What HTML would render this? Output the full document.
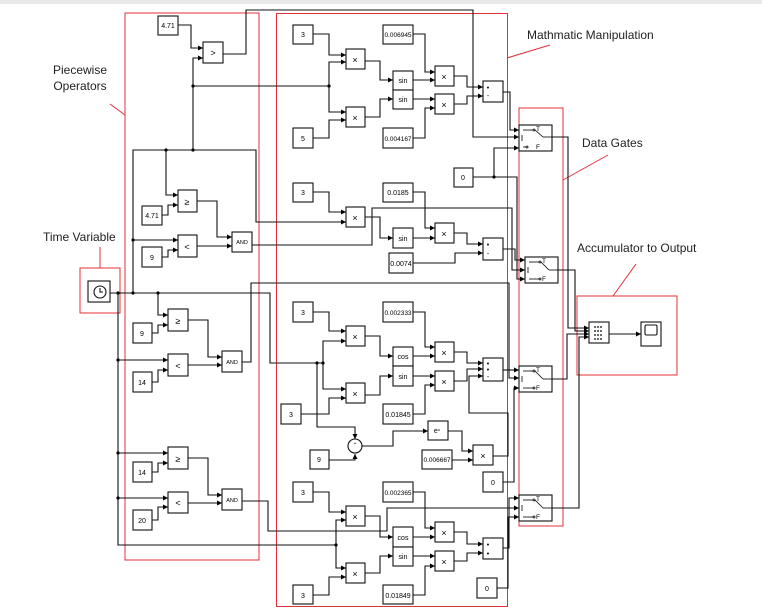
<!DOCTYPE html>
<html><head><meta charset="utf-8"><style>
html,body{margin:0;padding:0;background:#fff;}
svg{display:block;font-family:"Liberation Sans",sans-serif;}
</style></head><body>
<svg width="762" height="613" viewBox="0 0 762 613" xmlns="http://www.w3.org/2000/svg">
<defs><marker id="a" markerWidth="6" markerHeight="6" refX="5" refY="3" orient="auto" markerUnits="userSpaceOnUse"><path d="M0,0.5 L5,3 L0,5.5z" fill="#000"/></marker></defs>
<rect width="762" height="613" fill="#fff"/>
<rect x="0" y="0" width="762" height="4" fill="#e8e8e8"/>
<g fill="none" stroke="#e0303a" stroke-width="1">
<rect x="125" y="13" width="134" height="547"/>
<rect x="276.5" y="13.5" width="231" height="593"/>
<rect x="519" y="108" width="44" height="418"/>
<rect x="577" y="296" width="100" height="79"/>
<rect x="80" y="268" width="40" height="45"/>
<line x1="110" y1="104" x2="125" y2="115"/>
<line x1="550" y1="45" x2="507" y2="58"/>
<line x1="608" y1="155" x2="563" y2="180"/>
<line x1="636" y1="264" x2="613" y2="296"/>
<line x1="100" y1="247" x2="100" y2="268"/>
</g>
<g font-size="12" fill="#222">
<text x="80" y="74" text-anchor="middle">Piecewise</text>
<text x="80" y="90" text-anchor="middle">Operators</text>
<text x="527" y="39">Mathmatic Manipulation</text>
<text x="582" y="147">Data Gates</text>
<text x="577" y="252">Accumulator to Output</text>
<text x="43" y="241">Time Variable</text>
</g>
<g fill="none" stroke="#111" stroke-width="1.1">
<polyline points="193,150 193,86"/>
</g>
<g fill="none" stroke="#111" stroke-width="1.1" marker-end="url(#a)">
<polyline points="178,25 191,25 191,48 203,48"/>
<polyline points="193,86 193,58 203,58"/>
<polyline points="223,54 246,54 246,10 473,10 473,137 519,137"/>
<polyline points="193,86 329,86 329,62 346,62"/>
<polyline points="329,86 329,112 346,112"/>
<polyline points="313,34 329,34 329,55 346,55"/>
<polyline points="313,138 329,138 329,120 346,120"/>
<polyline points="365,61 380,61 380,80 393,80"/>
<polyline points="365,117 380,117 380,99 393,99"/>
<polyline points="413,80 435,80"/>
<polyline points="413,34 425,34 425,72 435,72"/>
<polyline points="413,99 435,99"/>
<polyline points="413,138 425,138 425,108 435,108"/>
<polyline points="454,76 467,76 467,87 483,87"/>
<polyline points="454,104 467,104 467,96 483,96"/>
<polyline points="503,92 510,92 510,130 519,130"/>
<polyline points="473,177 494,177 494,148 519,148"/>
<polyline points="494,177 517,177 517,279 525,279"/>
<polyline points="133,293 133,150 256,150 256,222 346,222"/>
<polyline points="166,150 166,195 178,195"/>
<polyline points="162,215 168,215 168,205 178,205"/>
<polyline points="133,240 178,240"/>
<polyline points="152,257 168,257 168,250 178,250"/>
<polyline points="197,201 217,201 217,237 232,237"/>
<polyline points="197,246 232,246"/>
<polyline points="252,245 372,245 372,208 512,208 512,270 525,270"/>
<polyline points="313,192 329,192 329,212 346,212"/>
<polyline points="365,217 380,217 380,238 393,238"/>
<polyline points="413,238 435,238"/>
<polyline points="413,192 425,192 425,228 435,228"/>
<polyline points="454,233 467,233 467,244 483,244"/>
<polyline points="413,263 455,263 455,253 483,253"/>
<polyline points="503,249 515,249 515,260 525,260"/>
<polyline points="110,293 270,293 270,363 323,363 323,341 346,341"/>
<polyline points="323,363 323,389 346,389"/>
<polyline points="317,363 317,427 355,427 355,439"/>
<polyline points="313,312 329,312 329,331 346,331"/>
<polyline points="301,414 329,414 329,398 346,398"/>
<polyline points="365,336 380,336 380,356 393,356"/>
<polyline points="365,395 380,395 380,376 393,376"/>
<polyline points="413,356 435,356"/>
<polyline points="413,312 425,312 425,347 435,347"/>
<polyline points="413,376 435,376"/>
<polyline points="413,414 425,414 425,385 435,385"/>
<polyline points="454,352 467,352 467,363 483,363"/>
<polyline points="454,381 467,381 467,369 483,369"/>
<polyline points="493,456 508,456 508,413 469,413 469,376 483,376"/>
<polyline points="329,460 355,460 355,454"/>
<polyline points="362,446 393,446 393,431 428,431"/>
<polyline points="448,431 462,431 462,451 473,451"/>
<polyline points="452,460 473,460"/>
<polyline points="503,370 519,370"/>
<polyline points="503,482 514,482 514,388 519,388"/>
<polyline points="158,293 158,315 168,315"/>
<polyline points="152,333 158,333 158,325 168,325"/>
<polyline points="118,293 118,545 336,545 336,520 346,520"/>
<polyline points="336,545 336,568 346,568"/>
<polyline points="118,360 168,360"/>
<polyline points="152,382 158,382 158,370 168,370"/>
<polyline points="188,320 208,320 208,357 222,357"/>
<polyline points="188,365 222,365"/>
<polyline points="242,362 251,362 251,283 509,283 509,378 519,378"/>
<polyline points="118,453 168,453"/>
<polyline points="152,472 158,472 158,463 168,463"/>
<polyline points="118,498 168,498"/>
<polyline points="152,520 158,520 158,507 168,507"/>
<polyline points="188,458 208,458 208,495 222,495"/>
<polyline points="188,503 222,503"/>
<polyline points="242,501 268,501 268,531 387,531 387,508 519,508"/>
<polyline points="313,492 329,492 329,512 346,512"/>
<polyline points="313,595 329,595 329,577 346,577"/>
<polyline points="365,516 380,516 380,537 393,537"/>
<polyline points="365,573 380,573 380,556 393,556"/>
<polyline points="413,537 435,537"/>
<polyline points="413,492 425,492 425,528 435,528"/>
<polyline points="413,556 435,556"/>
<polyline points="413,595 425,595 425,566 435,566"/>
<polyline points="454,532 467,532 467,544 483,544"/>
<polyline points="454,561 467,561 467,553 483,553"/>
<polyline points="503,548 509,548 509,498 519,498"/>
<polyline points="497,588 508,588 508,517 519,517"/>
<polyline points="552,137 568,137 568,328 589,328"/>
<polyline points="558,270 575,270 575,331 589,331"/>
<polyline points="552,379 567,379 567,334 589,334"/>
<polyline points="552,508 579,508 579,337 589,337"/>
<polyline points="609,334 641,334"/>
</g>
<g fill="#000">
<circle cx="193" cy="86" r="1.6"/><circle cx="193" cy="150" r="1.6"/><circle cx="166" cy="150" r="1.6"/>
<circle cx="329" cy="86" r="1.6"/><circle cx="133" cy="240" r="1.6"/><circle cx="133" cy="293" r="1.6"/>
<circle cx="118" cy="293" r="1.6"/><circle cx="158" cy="293" r="1.6"/><circle cx="494" cy="177" r="1.6"/>
<circle cx="317" cy="363" r="1.6"/><circle cx="323" cy="363" r="1.6"/><circle cx="336" cy="545" r="1.6"/>
<circle cx="118" cy="360" r="1.6"/><circle cx="118" cy="453" r="1.6"/><circle cx="118" cy="498" r="1.6"/>
</g>
<g fill="#fff" stroke="#111" stroke-width="1.1">
<rect x="158" y="16" width="20" height="19"/><rect x="203" y="42" width="20" height="21"/>
<rect x="178" y="190" width="19" height="22"/><rect x="142" y="206" width="20" height="19"/>
<rect x="178" y="235" width="19" height="22"/><rect x="142" y="247" width="20" height="20"/>
<rect x="232" y="232" width="20" height="20"/>
<rect x="168" y="309" width="20" height="22"/><rect x="133" y="323" width="19" height="20"/>
<rect x="168" y="354" width="20" height="22"/><rect x="133" y="372" width="19" height="20"/>
<rect x="222" y="351" width="20" height="21"/>
<rect x="168" y="447" width="20" height="22"/><rect x="133" y="462" width="19" height="20"/>
<rect x="168" y="492" width="20" height="21"/><rect x="133" y="510" width="19" height="20"/>
<rect x="222" y="489" width="20" height="21"/>
<rect x="293" y="25" width="20" height="19"/><rect x="293" y="128" width="20" height="20"/>
<rect x="346" y="49" width="19" height="20"/><rect x="346" y="107" width="19" height="20"/>
<rect x="393" y="71" width="20" height="19"/><rect x="393" y="90" width="20" height="19"/>
<rect x="383" y="25" width="30" height="19"/><rect x="383" y="128" width="30" height="20"/>
<rect x="435" y="66" width="19" height="20"/><rect x="435" y="94" width="19" height="20"/>
<rect x="483" y="81" width="20" height="21"/><rect x="454" y="168" width="19" height="19"/>
<rect x="293" y="183" width="20" height="19"/><rect x="346" y="207" width="19" height="20"/>
<rect x="383" y="183" width="30" height="19"/><rect x="393" y="228" width="20" height="20"/>
<rect x="435" y="223" width="19" height="20"/><rect x="483" y="238" width="20" height="22"/>
<rect x="389" y="253" width="24" height="20"/>
<rect x="293" y="302" width="20" height="20"/><rect x="346" y="326" width="19" height="20"/>
<rect x="383" y="302" width="30" height="20"/><rect x="393" y="347" width="20" height="19"/>
<rect x="393" y="366" width="20" height="20"/><rect x="435" y="342" width="19" height="20"/>
<rect x="435" y="371" width="19" height="20"/><rect x="483" y="358" width="20" height="23"/>
<rect x="346" y="383" width="19" height="20"/><rect x="281" y="404" width="20" height="20"/>
<rect x="383" y="404" width="30" height="20"/><rect x="310" y="450" width="19" height="19"/>
<rect x="428" y="421" width="20" height="19"/><rect x="422" y="450" width="30" height="19"/>
<rect x="473" y="445" width="20" height="20"/><rect x="483" y="472" width="20" height="20"/>
<rect x="293" y="482" width="20" height="20"/><rect x="346" y="506" width="19" height="20"/>
<rect x="383" y="482" width="30" height="20"/><rect x="393" y="527" width="20" height="20"/>
<rect x="393" y="547" width="20" height="19"/><rect x="435" y="522" width="19" height="20"/>
<rect x="435" y="551" width="19" height="20"/><rect x="483" y="538" width="20" height="21"/>
<rect x="346" y="563" width="19" height="20"/><rect x="293" y="585" width="20" height="19"/>
<rect x="383" y="585" width="30" height="19"/><rect x="477" y="578" width="20" height="20"/>
<rect x="519" y="125" width="33" height="26"/><rect x="525" y="257" width="33" height="26"/>
<rect x="519" y="366" width="33" height="26"/><rect x="519" y="495" width="33" height="26"/>
<rect x="589" y="322" width="20" height="21"/><rect x="641" y="322" width="20" height="24"/>
<rect x="645" y="325" width="12" height="10" rx="1.5"/>
<rect x="88" y="281" width="22" height="21"/>
<circle cx="100" cy="292" r="6"/>
<circle cx="355" cy="446" r="7"/>
</g>
<path d="M100,288 L100,292 L103,292" fill="none" stroke="#000"/>
<g fill="none" stroke="#000" stroke-width="0.8">
<g transform="translate(519,125)"><circle cx="15" cy="5" r="1"/><circle cx="8" cy="22" r="1"/><line x1="4" y1="5" x2="14" y2="5"/><line x1="4" y1="22" x2="7" y2="22"/><line x1="16" y1="5" x2="24" y2="12"/><line x1="24" y1="12" x2="33" y2="12"/><line x1="3" y1="10" x2="3" y2="16"/></g>
<g transform="translate(525,257)"><circle cx="15" cy="5" r="1"/><circle cx="15" cy="22" r="1"/><line x1="4" y1="5" x2="14" y2="5"/><line x1="4" y1="22" x2="14" y2="22"/><line x1="16" y1="5" x2="24" y2="13"/><line x1="24" y1="13" x2="33" y2="13"/><line x1="3" y1="10" x2="3" y2="16"/></g>
<g transform="translate(519,366)"><circle cx="15" cy="5" r="1"/><circle cx="15" cy="22" r="1"/><line x1="4" y1="5" x2="14" y2="5"/><line x1="4" y1="22" x2="14" y2="22"/><line x1="16" y1="5" x2="24" y2="13"/><line x1="24" y1="13" x2="33" y2="13"/><line x1="3" y1="10" x2="3" y2="16"/></g>
<g transform="translate(519,495)"><circle cx="15" cy="5" r="1"/><circle cx="15" cy="22" r="1"/><line x1="4" y1="5" x2="14" y2="5"/><line x1="4" y1="22" x2="14" y2="22"/><line x1="16" y1="5" x2="24" y2="13"/><line x1="24" y1="13" x2="33" y2="13"/><line x1="3" y1="10" x2="3" y2="16"/></g>
</g>
<g font-size="6.5" fill="#000">
<text x="536" y="131">T</text><text x="536" y="149">F</text>
<text x="542" y="263">T</text><text x="542" y="281">F</text>
<text x="536" y="372">T</text><text x="536" y="390">F</text>
<text x="536" y="501">T</text><text x="536" y="519">F</text>
</g>
<g fill="#000"><circle cx="595" cy="327" r="0.9"/><circle cx="595" cy="331" r="0.9"/><circle cx="595" cy="335" r="0.9"/><circle cx="595" cy="339" r="0.9"/>
<circle cx="598" cy="327" r="0.9"/><circle cx="601" cy="327" r="0.9"/><circle cx="598" cy="331" r="0.9"/><circle cx="601" cy="331" r="0.9"/><circle cx="598" cy="335" r="0.9"/><circle cx="601" cy="335" r="0.9"/><circle cx="598" cy="339" r="0.9"/><circle cx="601" cy="339" r="0.9"/></g>
<g font-size="7" fill="#000" text-anchor="middle">
<text x="168" y="28">4.71</text>
<text x="152" y="218">4.71</text><text x="152" y="260">9</text>
<text x="242" y="244" font-size="5.5">AND</text>
<text x="142" y="336">9</text><text x="142" y="385">14</text>
<text x="232" y="364" font-size="5.5">AND</text>
<text x="142" y="475">14</text><text x="142" y="523">20</text>
<text x="232" y="502" font-size="5.5">AND</text>
<text x="303" y="37">3</text><text x="303" y="141">5</text>
<text x="403" y="83">sin</text><text x="403" y="102">sin</text>
<text x="398" y="37" font-size="6.5">0.006945</text><text x="398" y="141" font-size="6.5">0.004167</text>
<text x="488" y="90">•</text><text x="488" y="98">-</text><text x="463" y="180">0</text>
<text x="303" y="195">3</text><text x="398" y="195">0.0185</text>
<text x="403" y="241">sin</text><text x="401" y="266">0.0074</text>
<text x="488" y="247">•</text><text x="488" y="256">-</text>
<text x="303" y="315">3</text><text x="398" y="315" font-size="6.5">0.002333</text>
<text x="403" y="359">cos</text><text x="403" y="379">sin</text>
<text x="488" y="366">•</text><text x="488" y="372">•</text><text x="488" y="379">-</text>
<text x="291" y="417">3</text><text x="398" y="417">0.01845</text>
<text x="355" y="445" font-size="5">÷</text><text x="319" y="462">9</text>
<text x="437" y="433">e<tspan font-size="4" dy="-2">u</tspan></text><text x="437" y="462" font-size="6.5">0.006667</text>
<text x="493" y="485">0</text>
<text x="303" y="495">3</text><text x="398" y="495" font-size="6.5">0.002365</text>
<text x="403" y="540">cos</text><text x="403" y="559">sin</text>
<text x="488" y="547">•</text><text x="488" y="556">•</text>
<text x="303" y="598">3</text><text x="398" y="598">0.01849</text>
<text x="487" y="591">0</text>
</g>
<g font-size="9" fill="#000" text-anchor="middle">
<text x="213" y="56">&gt;</text>
<text x="187" y="205">≥</text><text x="187" y="250">&lt;</text>
<text x="178" y="324">≥</text><text x="178" y="369">&lt;</text>
<text x="178" y="462">≥</text><text x="178" y="506">&lt;</text>
<text x="355" y="63">×</text><text x="355" y="121">×</text>
<text x="444" y="80">×</text><text x="444" y="108">×</text>
<text x="355" y="221">×</text><text x="444" y="237">×</text>
<text x="355" y="340">×</text><text x="444" y="356">×</text><text x="444" y="385">×</text>
<text x="355" y="397">×</text><text x="483" y="459">×</text>
<text x="355" y="520">×</text><text x="444" y="536">×</text><text x="444" y="565">×</text>
<text x="355" y="577">×</text>
</g>
</svg>
</body></html>
